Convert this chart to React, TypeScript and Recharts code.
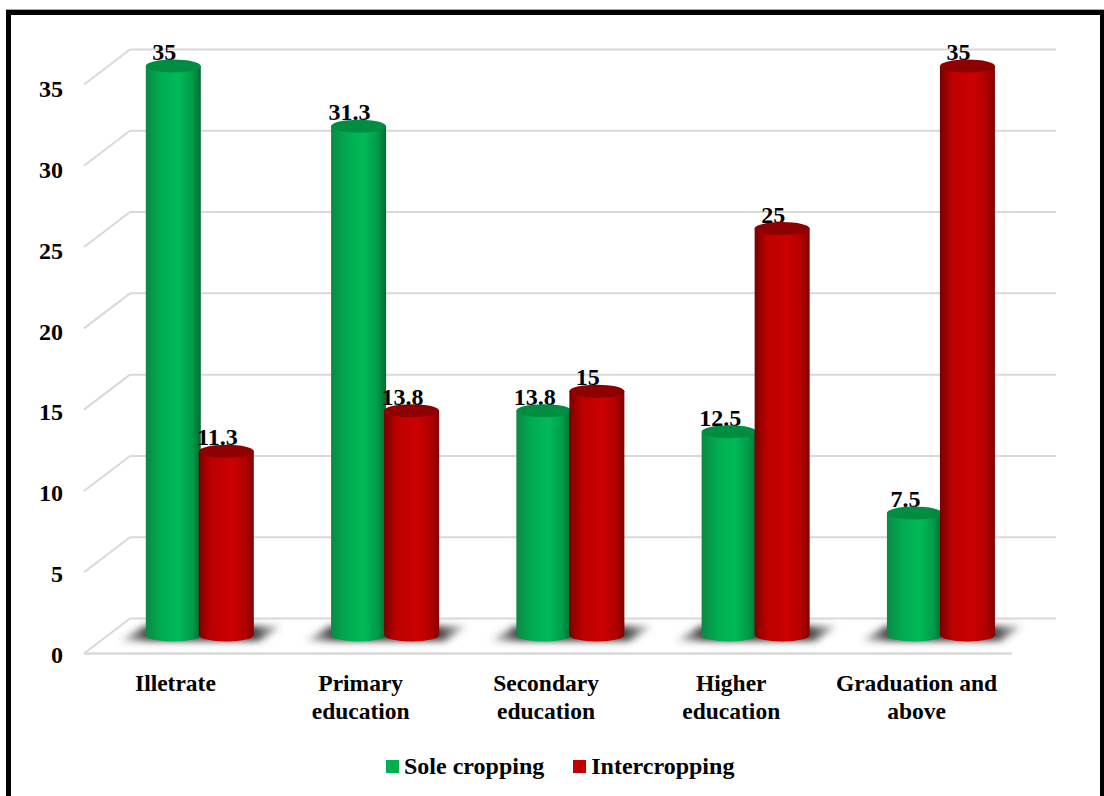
import React from 'react';
import { BarChart, Bar, XAxis, YAxis, CartesianGrid, Legend } from 'recharts';

const categories = ['Illetrate', 'Primary education', 'Secondary education', 'Higher education', 'Graduation and above'];
const soleCropping = [35, 31.3, 13.8, 12.5, 7.5];
const intercropping = [11.3, 13.8, 15, 25, 35];
const yTicks = [0, 5, 10, 15, 20, 25, 30, 35];

const chartData = categories.map((name, i) => ({
  name,
  sole: soleCropping[i],
  inter: intercropping[i],
}));

const FONT = '"Liberation Serif", "Times New Roman", serif';
const GRID = '#d9d9d9';
const CAP_RY = 6.5;

// Fake 3D floor and back wall: each grid line runs along the wall and slants towards the viewer
function WallLine(props: any) {
  const y = props.y1;
  const wallY = y - 16.5;
  const isFloor = Math.abs(y - 635) < 1;
  return (
    <g>
      <line x1={84} y1={wallY + 35} x2={130} y2={wallY} stroke={GRID} strokeWidth={2} />
      <line x1={130} y1={wallY} x2={1056} y2={wallY} stroke={GRID} strokeWidth={2} />
      {isFloor && <line x1={84} y1={wallY + 35} x2={1012} y2={wallY + 35} stroke={GRID} strokeWidth={2.5} />}
    </g>
  );
}

function Cylinder({ x, y, width, height, body, cap, value }: any) {
  const base = y + height;
  const rx = width / 2;
  const d = `M${x},${y} L${x},${base} A${rx},${CAP_RY} 0 0 0 ${x + width},${base} L${x + width},${y} Z`;
  return (
    <g>
      <text
        x={x + rx - 9}
        y={y - 6}
        textAnchor="middle"
        fontFamily={FONT}
        fontWeight={700}
        fontSize={24}
        fill="#000"
      >
        {value}
      </text>
      <path d={d} fill={`url(#${body})`} />
      <ellipse cx={x + rx} cy={y} rx={rx} ry={CAP_RY} fill={cap} />
    </g>
  );
}

// The green bar comes first in each group, so it also lays down the floor shadow of the pair
function SoleShape(props: any) {
  const { x } = props;
  const base = props.y + props.height;
  const pts = [
    [x - 26, base + 6],
    [x - 2, base - 9],
    [x + 136, base - 9],
    [x + 114, base + 6],
  ]
    .map((p) => p.join(','))
    .join(' ');
  return (
    <g>
      <polygon points={pts} fill="url(#shadowFade)" filter="url(#floorShadow)" />
      <Cylinder {...props} body="soleBody" cap="#008c41" />
    </g>
  );
}

function InterShape(props: any) {
  return <Cylinder {...props} body="interBody" cap="#8c0000" />;
}

function ValueTick({ y, payload }: any) {
  return (
    <text
      x={63}
      y={y + 31 - (y - 65) * 0.0053}
      textAnchor="end"
      fontFamily={FONT}
      fontWeight={700}
      fontSize={24}
      fill="#000"
    >
      {payload.value}
    </text>
  );
}

function CategoryTick({ x, payload }: any) {
  const label: string = payload.value;
  const cut = label.lastIndexOf(' ');
  const lines = cut < 0 ? [label] : [label.slice(0, cut), label.slice(cut + 1)];
  return (
    <text textAnchor="middle" fontFamily={FONT} fontWeight={700} fontSize={23.5} fill="#000">
      {lines.map((line, i) => (
        <tspan key={line} x={x - 24} y={691 + i * 28}>
          {line}
        </tspan>
      ))}
    </text>
  );
}

function LegendRow({ payload }: any) {
  return (
    <div style={{ display: 'flex', paddingLeft: 386, fontFamily: FONT, fontWeight: 700, fontSize: 24, color: '#000' }}>
      {(payload || []).map((item: any) => (
        <div key={item.value} style={{ display: 'flex', alignItems: 'center', marginRight: 29, lineHeight: '28px' }}>
          <span style={{ width: 13, height: 13, background: item.color, marginRight: 5 }} />
          {item.value}
        </div>
      ))}
    </div>
  );
}

export default function App() {
  return (
    <div style={{ position: 'relative', width: 1104, height: 796, overflow: 'hidden', background: '#fff' }}>
      <style>{'html, body { margin: 0; padding: 0; }'}</style>
      <div
        style={{
          position: 'absolute',
          left: 6,
          top: 10,
          width: 1089,
          height: 800,
          borderTop: '5px solid #000',
          borderLeft: '5px solid #000',
          borderRight: '5px solid #000',
          boxShadow: '0 -1px 0 #a8a8a8',
        }}
      />
      <div style={{ position: 'absolute', left: 0, top: 0 }}>
        <BarChart
          width={1104}
          height={796}
          data={chartData}
          margin={{ top: 66, right: 70.8, bottom: 21, left: 0 }}
          barSize={55}
          barGap={-2}
        >
          <defs>
            <linearGradient id="soleBody" x1="0" y1="0" x2="1" y2="0">
              <stop offset="0" stopColor="#0a8a45" />
              <stop offset="0.3" stopColor="#00ad52" />
              <stop offset="0.6" stopColor="#00ba57" />
              <stop offset="0.85" stopColor="#009a48" />
              <stop offset="1" stopColor="#046a32" />
            </linearGradient>
            <linearGradient id="interBody" x1="0" y1="0" x2="1" y2="0">
              <stop offset="0" stopColor="#7a0000" />
              <stop offset="0.22" stopColor="#bb0000" />
              <stop offset="0.6" stopColor="#cc0000" />
              <stop offset="0.85" stopColor="#b00000" />
              <stop offset="1" stopColor="#820000" />
            </linearGradient>
            <linearGradient id="shadowFade" x1="0" y1="0" x2="1" y2="0">
              <stop offset="0" stopColor="#3c3c3c" stopOpacity={0.15} />
              <stop offset="0.18" stopColor="#3c3c3c" stopOpacity={1} />
              <stop offset="0.82" stopColor="#3c3c3c" stopOpacity={1} />
              <stop offset="1" stopColor="#3c3c3c" stopOpacity={0.15} />
            </linearGradient>
            <filter id="floorShadow" x="-20%" y="-80%" width="140%" height="260%">
              <feGaussianBlur stdDeviation="3.5" />
            </filter>
          </defs>
          <CartesianGrid horizontal={WallLine} vertical={false} syncWithTicks />
          <XAxis dataKey="name" axisLine={false} tickLine={false} height={100} interval={0} tick={CategoryTick} />
          <YAxis
            domain={[0, 35]}
            ticks={yTicks}
            axisLine={false}
            tickLine={false}
            width={106.8}
            tick={ValueTick}
          />
          <Legend
            height={40}
            content={LegendRow}
            itemSorter={null}
            wrapperStyle={{ left: 0, top: 752, bottom: 'auto', width: 1104 }}
          />
          <Bar dataKey="sole" name="Sole cropping" fill="#00b050" shape={SoleShape} isAnimationActive={false} />
          <Bar dataKey="inter" name="Intercropping" fill="#c00000" shape={InterShape} isAnimationActive={false} />
        </BarChart>
      </div>
    </div>
  );
}
